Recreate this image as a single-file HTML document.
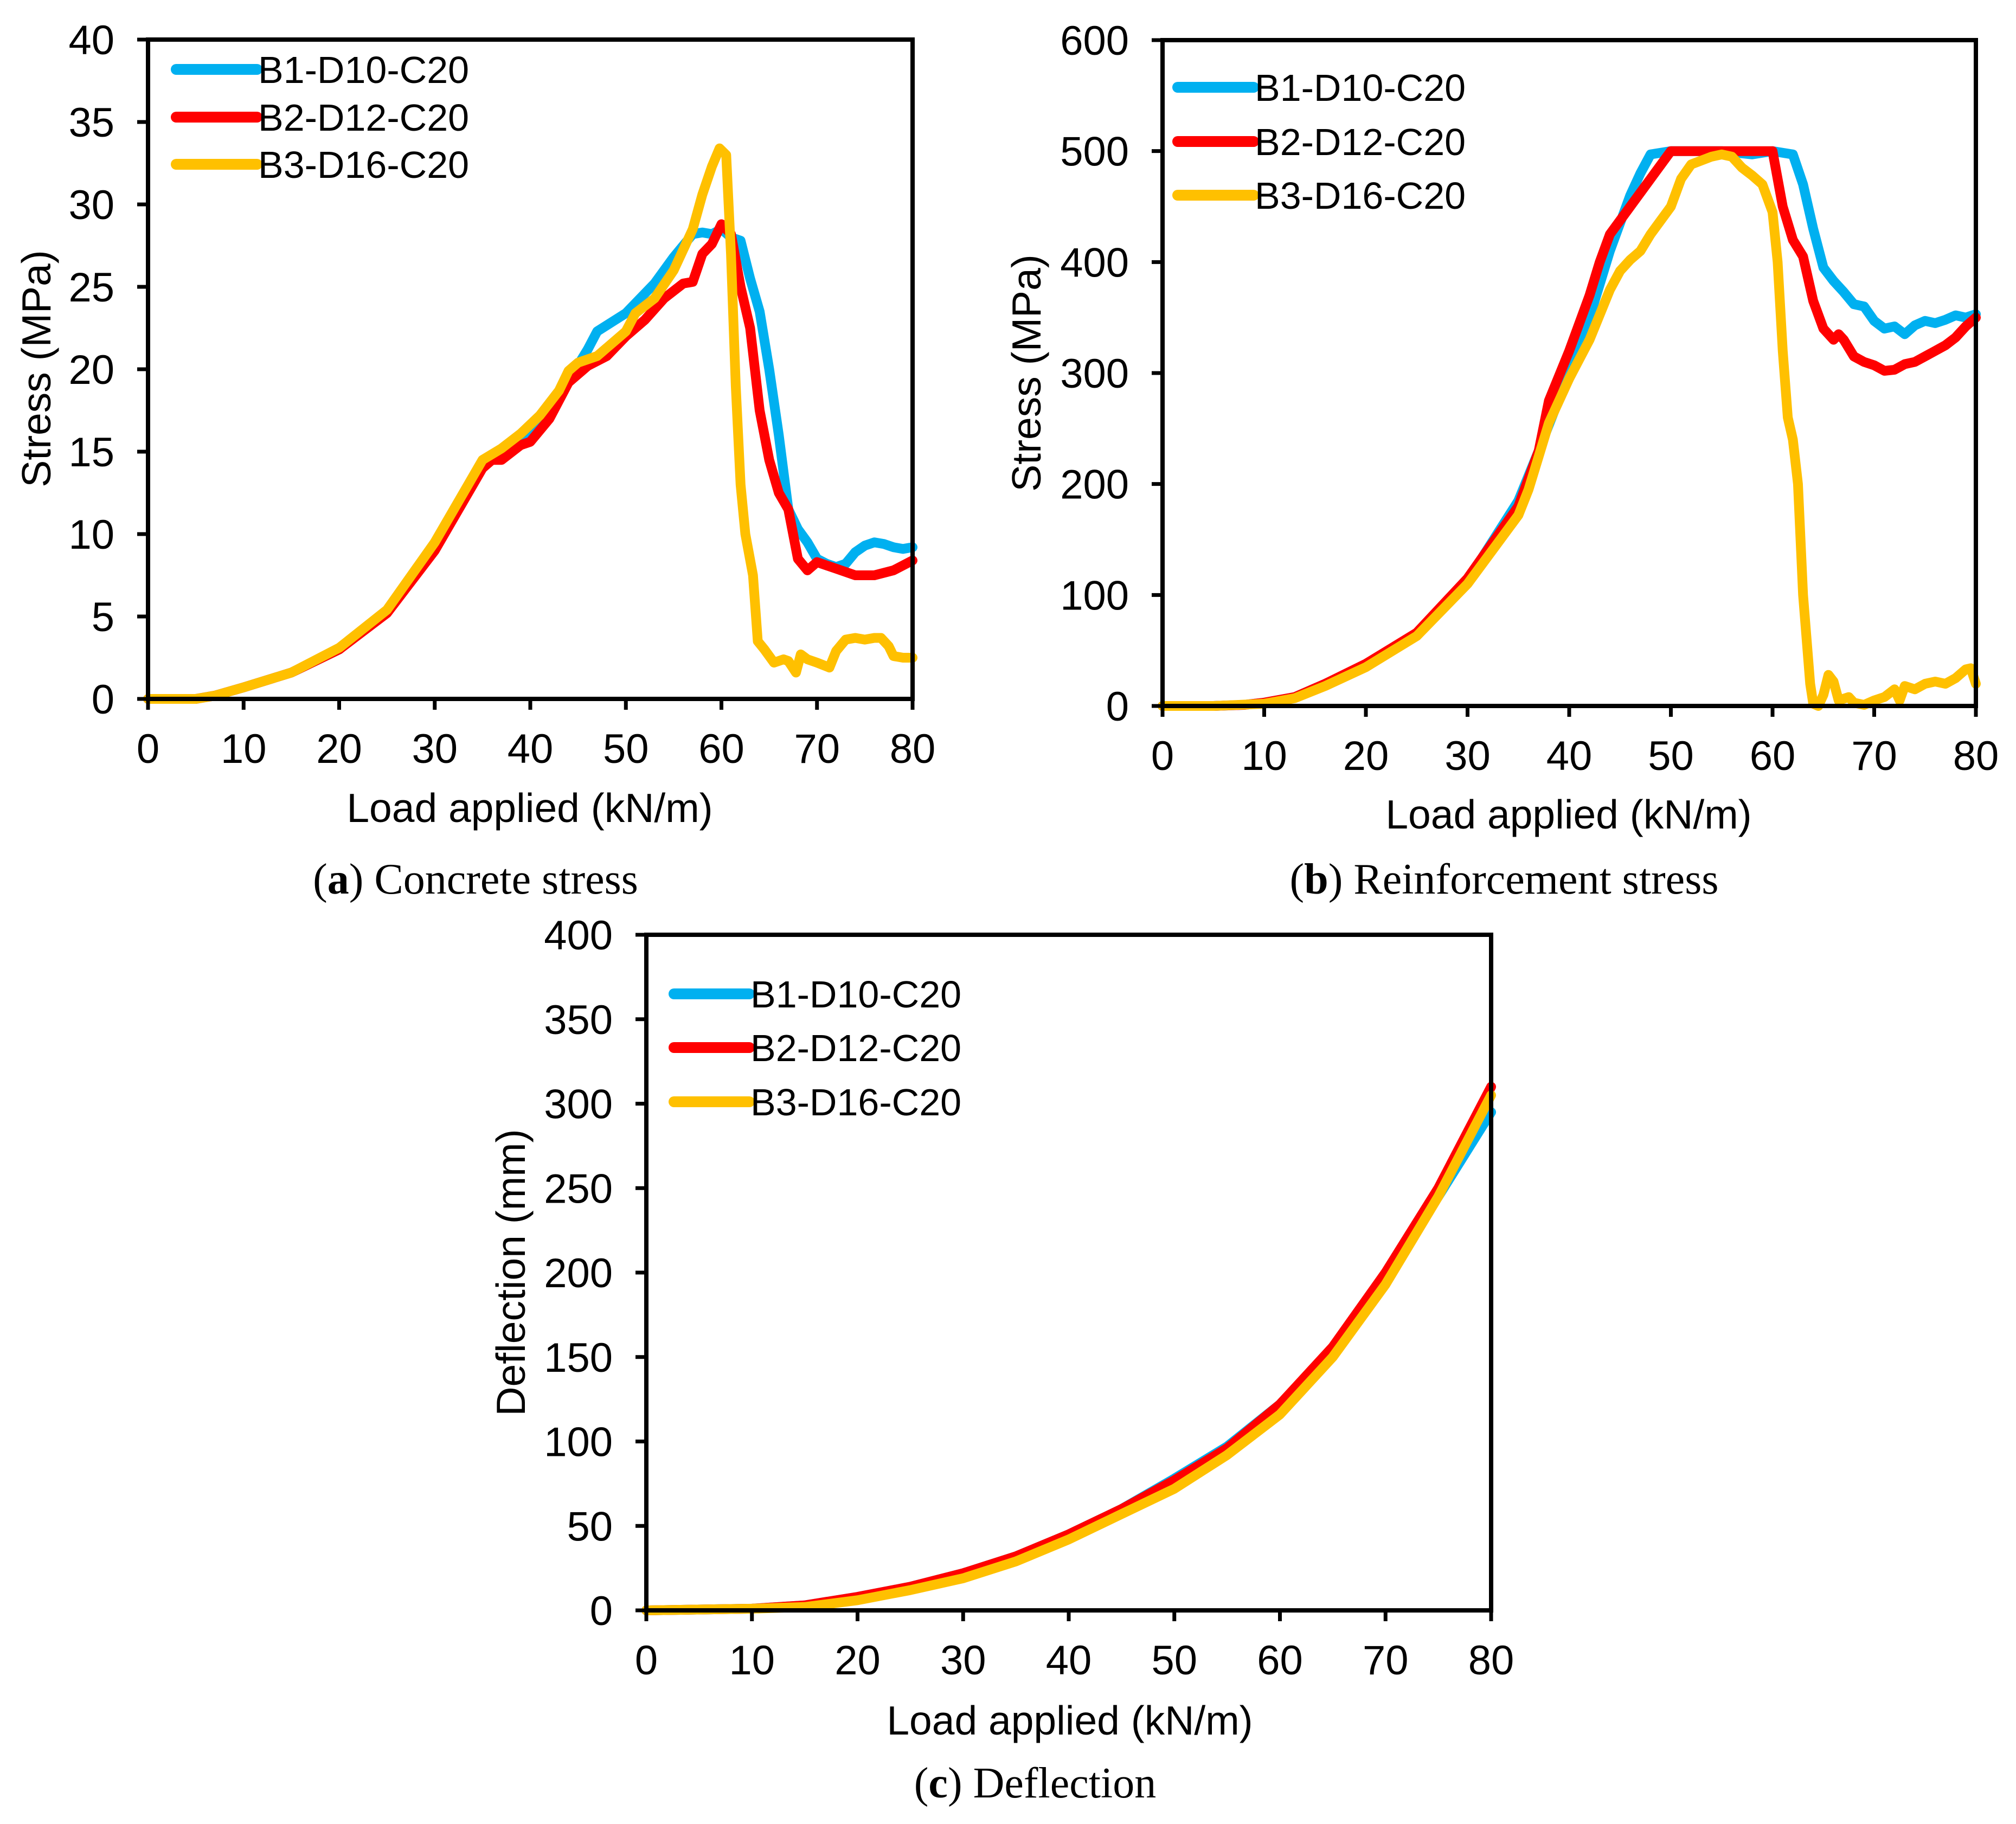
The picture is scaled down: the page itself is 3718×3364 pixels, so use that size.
<!DOCTYPE html>
<html><head><meta charset="utf-8"><style>
html,body{margin:0;padding:0;background:#fff;}
svg{display:block;}
.tick{font-family:"Liberation Sans",sans-serif;font-size:76px;fill:#000;}
.title{font-family:"Liberation Sans",sans-serif;font-size:75px;fill:#000;}
.leg{font-family:"Liberation Sans",sans-serif;font-size:70px;fill:#000;}
.cap{font-family:"Liberation Serif",serif;font-size:80px;fill:#000;}
</style></head><body>
<svg id="fig" width="3718" height="3364" viewBox="0 0 3718 3364" xmlns="http://www.w3.org/2000/svg">
<rect width="3718" height="3364" fill="#fff"/>
</svg>
<script>
// Chart (a) concrete stress
const aB1x=[0,5,7,10,15,20,25,30,35,37,40,42,44,46,47,50,53,55,57,58,59,60,61,62,63,64,65,66,67,68,69,70,71,72,73,74,75,76,77,78,79,80];
const aB1y=[0,0,0.2,0.7,1.6,3.0,5.3,9.3,14.3,15.0,16.3,17.5,19.3,21.2,22.3,23.4,25.2,26.8,28.2,28.3,28.2,28.5,28.0,27.8,25.5,23.5,20,16,11.5,10.3,9.5,8.5,8.2,8.0,8.2,8.9,9.3,9.5,9.4,9.2,9.1,9.2];
const aB2x=[0,5,7,10,15,20,25,30,35,36,37,39,40,42,44,46,48,50,52,54,56,57,58,59,60,61,62,63,64,65,66,67,68,69,70,72,74,76,78,80];
const aB2y=[0,0,0.2,0.7,1.6,3.0,5.2,9.0,14.0,14.5,14.5,15.4,15.6,17,19.2,20.2,20.8,22,23,24.3,25.2,25.3,27,27.6,28.8,28.2,25,22.5,17.5,14.5,12.5,11.5,8.5,7.8,8.3,7.9,7.5,7.5,7.8,8.4];
const aB3x=[0,5,7,10,15,20,25,30,35,37,39,41,43,44,45,47,48,50,51,53,55,57,58,59,59.8,60.5,61,61.5,62,62.5,63.3,63.8,64.5,65.5,66.5,67,67.8,68.3,69,70,71.3,72,73,74,75,76,76.7,77.5,78,79,80];
const aB3y=[0,0,0.2,0.7,1.6,3.1,5.4,9.5,14.5,15.2,16.1,17.2,18.7,19.9,20.4,20.8,21.3,22.3,23.4,24.3,26,28.5,30.6,32.3,33.4,33.0,27,19,13,10,7.5,3.5,3.0,2.2,2.4,2.3,1.6,2.7,2.4,2.2,1.9,2.9,3.6,3.7,3.6,3.7,3.7,3.2,2.6,2.5,2.5];
// Chart (b) reinforcement stress
const bB1x=[0,5,8,10,13,16,20,25,30,35,37,40,42,44,46,47,48,50,55,58,60,62,63,64,65,66,67,68,69,70,71,72,73,74,75,76,77,78,79,80];
const bB1y=[0,0,1,3,8,20,37,65,113,185,230,300,350,410,460,480,497,500,500,497,500,497,470,430,395,383,373,362,360,347,340,342,335,343,347,345,348,352,350,353];
const bB2x=[0,5,8,10,13,16,20,25,30,35,37,38,40,42,43,44,46,48,50,55,59,60,61,62,63,64,65,66,66.5,67,68,69,70,71,72,73,74,75,76,77,78,79,80];
const bB2y=[0,0,1,3,8,20,38,66,115,180,230,275,320,370,400,425,450,475,500,500,500,500,450,420,405,365,340,330,335,330,315,310,307,302,303,308,310,315,320,325,332,342,350];
const bB3x=[0,5,10,13,16,20,25,30,35,36,37,38,40,42,44,45,46,47,48,50,51,52,54,55,56,57,58,59,60,60.5,61,61.5,62,62.5,63,63.7,64,64.5,65,65.5,66,66.5,67.5,68,69,70,71,72,72.5,73,74,75,76,77,78,79,79.5,80];
const bB3y=[0,0,2,7,18,35,63,110,172,195,225,255,295,330,375,392,402,410,425,450,475,488,495,497,495,485,478,470,445,400,320,260,240,200,100,20,2,0,10,28,22,5,8,3,1,5,8,15,5,18,15,20,22,20,25,33,34,20];
// Chart (c) deflection
const cX=[0,10,15,20,25,30,35,40,45,50,55,60,65,70,75,80];
const cB1y=[0,1,3,8,14,22,32,45,60,78,97,122,155,198,245,295];
const cB2y=[0,1,3,8,14,22,32,45,60,77,96,122,156,200,250,310];
const cB3y=[0,1,2,6,12,19,29,42,57,72,92,116,150,193,245,305];
const xTicks=[0,10,20,30,40,50,60,70,80];
const aTicks=[0,5,10,15,20,25,30,35,40];
const bTicks=[0,100,200,300,400,500,600];
const cTicks=[0,50,100,150,200,250,300,350,400];
const seriesNames=["B1-D10-C20","B2-D12-C20","B3-D16-C20"];
const colors=["#00B0F0","#FF0000","#FFC000"];

const NS="http://www.w3.org/2000/svg";
const svg=document.getElementById('fig');
function mk(tag,attrs,parent){const e=document.createElementNS(NS,tag);for(const k in attrs)e.setAttribute(k,attrs[k]);(parent||svg).appendChild(e);return e;}

function chart(id,box,yMax,yTicks,series,legend,xTitle,yTitle,cap){
  const g=mk('g',{});
  
  
  const sx=v=>box.x0+(box.x1-box.x0)*v/80;
  const sy=v=>box.y0-(box.y0-box.y1)*v/yMax;
  series.forEach((s,i)=>{
    const d=s.x.map((v,j)=>(j?'L':'M')+sx(v).toFixed(1)+','+sy(s.y[j]).toFixed(1)).join(' ');
    const p=mk('path',{d:d,fill:'none',stroke:colors[i],'stroke-width':18,'stroke-linejoin':'round','stroke-linecap':'round'},g);
    
    
  });
  const fr=mk('rect',{x:box.x0,y:box.y1,width:box.x1-box.x0,height:box.y0-box.y1,fill:'none',stroke:'#000','stroke-width':8},g);
  
  
  xTicks.forEach(t=>{
    const x=sx(t);
    mk('line',{x1:x,y1:box.y0,x2:x,y2:box.y0+20,stroke:'#000','stroke-width':7},g);
    const tx=mk('text',{x:x,y:box.y0+118,'text-anchor':'middle',class:'tick'},g);
    tx.textContent=t;
    
    
  });
  yTicks.forEach(t=>{
    const y=sy(t);
    mk('line',{x1:box.x0-20,y1:y,x2:box.x0,y2:y,stroke:'#000','stroke-width':7},g);
    const tx=mk('text',{x:box.x0-62,y:y+27,'text-anchor':'end',class:'tick'},g);
    tx.textContent=t;
    
    
  });
  const xt=mk('text',{x:xTitle[0],y:xTitle[1]+27,'text-anchor':'middle',class:'title'},g);
  xt.textContent='Load applied (kN/m)';
  
  
  const yt=mk('text',{x:0,y:0,'text-anchor':'middle',class:'title',transform:`translate(${yTitle[0]+27},${yTitle[1]}) rotate(-90)`},g);
  yt.textContent=yTitle[2];
  
  
  seriesNames.forEach((n,i)=>{
    const y=legend.ys[i];
    const l=mk('line',{x1:legend.x0,y1:y,x2:legend.x1,y2:y,stroke:colors[i],'stroke-width':20,'stroke-linecap':'round'},g);
    
    
    const t=mk('text',{x:legend.x1+2,y:y+25,class:'leg'},g);
    t.textContent=n;
    
    
  });
  const c=mk('text',{x:cap[0],y:cap[1]+24,'text-anchor':'middle',class:'cap'},g);
  c.innerHTML='(<tspan font-weight="bold">'+cap[2]+'</tspan>) '+cap[3];
  
  
}

chart('concrete-stress',{x0:273,x1:1683,y0:1289,y1:73},40,aTicks,
  [{x:aB1x,y:aB1y},{x:aB2x,y:aB2y},{x:aB3x,y:aB3y}],
  {x0:325,x1:474,ys:[128,216,303]},[977,1489],[66,680,'Stress (MPa)'],[877,1624,'a','Concrete stress']);
chart('reinforcement-stress',{x0:2144,x1:3644,y0:1302,y1:74},600,bTicks,
  [{x:bB1x,y:bB1y},{x:bB2x,y:bB2y},{x:bB3x,y:bB3y}],
  {x0:2172,x1:2312,ys:[161,261,360]},[2893,1501],[1892,688,'Stress (MPa)'],[2774,1624,'b','Reinforcement stress']);
chart('deflection',{x0:1192,x1:2750,y0:2970,y1:1724},400,cTicks,
  [{x:cX,y:cB1y},{x:cX,y:cB2y},{x:cX,y:cB3y}],
  {x0:1243,x1:1382,ys:[1833,1932,2032]},[1973,3172],[941,2347,'Deflection (mm)'],[1909,3291,'c','Deflection']);
</script>
</body></html>
